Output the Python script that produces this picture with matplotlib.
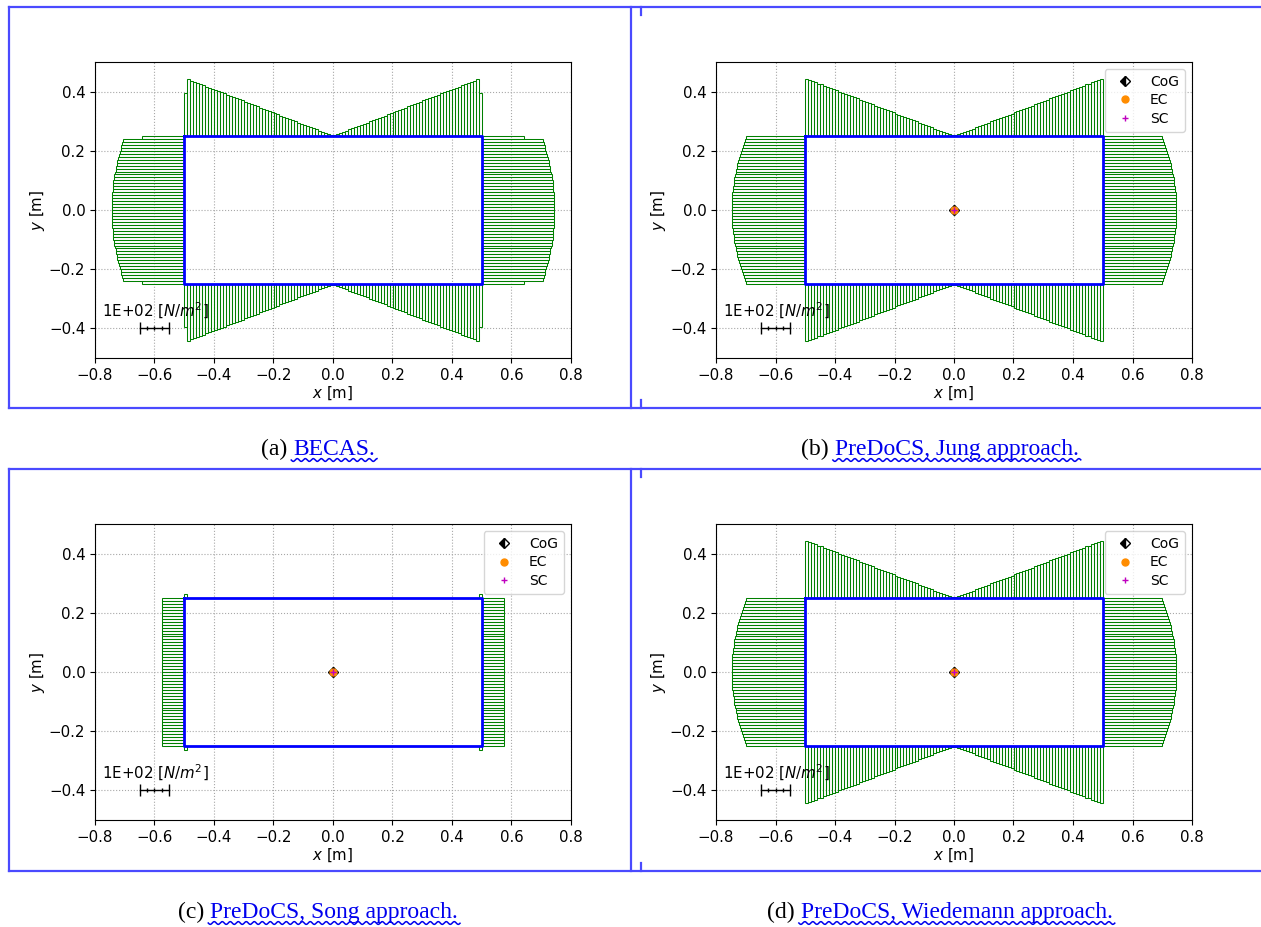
import numpy as np
import matplotlib
matplotlib.use("Agg")
import matplotlib.pyplot as plt
from matplotlib.lines import Line2D

W, H = 1261, 927

# shear stress per wall element [N/m^2], element length 0.01 m
# top/bottom walls: left -> right, side walls: top -> bottom
BECAS_TOP = [146, 191, 187, 183, 179, 175, 171, 167, 163, 159, 155, 151, 148, 144, 140, 136, 132,
             128, 124, 120, 116, 112, 108, 104, 100, 96, 92, 89, 85, 81, 77, 73, 69, 65, 61, 57,
             53, 49, 45, 41, 37, 33, 30, 26, 22, 18, 14, 10, 6, 2,
             2, 6, 10, 14, 18, 22, 26, 30, 33, 37, 41, 45, 49, 53, 57, 61, 65, 69, 73, 77, 81,
             85, 89, 92, 96, 100, 104, 108, 112, 116, 120, 124, 128, 132, 136, 140, 144, 148,
             151, 155, 159, 163, 167, 171, 175, 179, 183, 187, 191, 146]
BECAS_SIDE = [143, 205, 208, 211, 214, 217, 220, 222, 225, 227, 229, 231, 233, 235, 236, 238,
              239, 240, 241, 242, 243, 243, 244, 244, 244,
              244, 244, 244, 243, 243, 242, 241, 240, 239, 238, 236, 235, 233, 231, 229, 227,
              225, 222, 220, 217, 214, 211, 208, 205, 143]

JUNG_TOP = [193, 189, 185, 181, 177, 174, 170, 166, 162, 158, 154, 150, 146, 142, 138, 135, 131,
            127, 123, 119, 115, 111, 107, 103, 99, 96, 92, 88, 84, 80, 76, 72, 68, 64, 60, 57,
            53, 49, 45, 41, 37, 33, 29, 25, 21, 18, 14, 10, 6, 2,
            2, 6, 10, 14, 18, 21, 25, 29, 33, 37, 41, 45, 49, 53, 57, 60, 64, 68, 72, 76, 80,
            84, 88, 92, 96, 99, 103, 107, 111, 115, 119, 123, 127, 131, 135, 138, 142, 146,
            150, 154, 158, 162, 166, 170, 174, 177, 181, 185, 189, 193]
JUNG_SIDE = [199, 203, 206, 210, 213, 217, 220, 222, 225, 228, 230, 232, 234, 236, 238, 240,
             241, 242, 244, 245, 245, 246, 246, 247, 247,
             247, 247, 246, 246, 245, 245, 244, 242, 241, 240, 238, 236, 234, 232, 230, 228,
             225, 222, 220, 217, 213, 210, 206, 203, 199]

SONG_TOP = [12, 0, 0, 0, 0, 0, 0, 0, 0, 0, 0, 0, 0, 0, 0, 0, 0, 0, 0, 0, 0, 0, 0, 0, 0,
            0, 0, 0, 0, 0, 0, 0, 0, 0, 0, 0, 0, 0, 0, 0, 0, 0, 0, 0, 0, 0, 0, 0, 0, 0,
            0, 0, 0, 0, 0, 0, 0, 0, 0, 0, 0, 0, 0, 0, 0, 0, 0, 0, 0, 0, 0, 0, 0, 0, 0,
            0, 0, 0, 0, 0, 0, 0, 0, 0, 0, 0, 0, 0, 0, 0, 0, 0, 0, 0, 0, 0, 0, 0, 0, 12]
SONG_SIDE = [75, 75, 75, 75, 75, 75, 75, 75, 75, 75, 75, 75, 75, 75, 75, 75, 75, 75, 75, 75,
             75, 75, 75, 75, 75, 75, 75, 75, 75, 75, 75, 75, 75, 75, 75, 75, 75, 75, 75, 75,
             75, 75, 75, 75, 75, 75, 75, 75, 75, 75]

WIEDEMANN_TOP = JUNG_TOP
WIEDEMANN_SIDE = JUNG_SIDE

# box section outline [m]
SECTION_X = [-0.5, 0.5, 0.5, -0.5, -0.5]
SECTION_Y = [0.25, 0.25, -0.25, -0.25, 0.25]
HALF_W, HALF_H = 0.5, 0.25

# centres (CoG, EC, SC)
CENTERS = {"CoG": (0.0, 0.0), "EC": (0.0, 0.0), "SC": (0.0, 0.0)}

SCALE = 1e-3          # m per N/m^2
SCALE_REF = 100       # N/m^2 shown by the scale bar

CAPTIONS = [("(a)", "BECAS."), ("(b)", "PreDoCS, Jung approach."),
            ("(c)", "PreDoCS, Song approach."), ("(d)", "PreDoCS, Wiedemann approach.")]

GREEN = "#008000"
LINK = "#0000ee"
FRAME = "#4a4aff"
FS = 10.8


def draw_panel(ax, top, side, legend):
    top = np.array(top) * SCALE
    side = np.array(side) * SCALE
    xe = np.linspace(-HALF_W, HALF_W, len(top) + 1)
    xc = 0.5 * (xe[:-1] + xe[1:])
    ye = np.linspace(HALF_H, -HALF_H, len(side) + 1)
    yc = 0.5 * (ye[:-1] + ye[1:])
    kw = dict(fill=False, edgecolor=GREEN, linewidth=0.75, zorder=2)
    ax.bar(xc, top, width=xe[1] - xe[0], bottom=HALF_H, **kw)
    ax.bar(xc, -top, width=xe[1] - xe[0], bottom=-HALF_H, **kw)
    ax.barh(yc, side, height=ye[0] - ye[1], left=HALF_W, **kw)
    ax.barh(yc, -side, height=ye[0] - ye[1], left=-HALF_W, **kw)
    ax.plot(SECTION_X, SECTION_Y, color="blue", lw=2, zorder=3)

    # scale bar
    sx = [-0.65, -0.65 + SCALE_REF * SCALE]
    ax.plot(sx, [-0.4, -0.4], color="k", lw=1, zorder=4)
    ax.plot(sx, [-0.4, -0.4], "k|", ms=8, zorder=4)
    ax.plot(np.linspace(sx[0], sx[1], 5)[1:-1], [-0.4] * 3, "k|", ms=3, zorder=4)
    ax.text(-0.775, -0.36, "1E+02 [$N/m^2$]", fontsize=FS, va="baseline")

    if legend:
        ax.plot(*CENTERS["CoG"], marker="D", ms=5, color="k", fillstyle="left",
                markerfacecoloralt="white", ls="none", label="CoG", zorder=5)
        ax.plot(*CENTERS["EC"], marker="o", ms=5, color="darkorange", ls="none",
                label="EC", zorder=5)
        ax.plot(*CENTERS["SC"], marker="+", ms=5, color="m", ls="none", label="SC", zorder=6)
        ax.legend(loc="upper right", fontsize=10, labelspacing=0.3, borderpad=0.45)

    ax.set_xlim(-0.8, 0.8)
    ax.set_ylim(-0.5, 0.5)
    ax.set_xticks(np.arange(-0.8, 0.81, 0.2))
    ax.set_yticks(np.arange(-0.4, 0.41, 0.2))
    ax.tick_params(labelsize=FS)
    ax.set_xlabel("$x$ [m]", fontsize=FS, labelpad=1)
    ax.set_ylabel("$y$ [m]", fontsize=FS, labelpad=1)
    ax.grid(True, linestyle=":", color="#a8a8a8", linewidth=0.8)
    ax.set_axisbelow(True)


fig = plt.figure(figsize=(W / 100, H / 100), dpi=100)

panels = [(95, 62, BECAS_TOP, BECAS_SIDE, False),
          (716, 62, JUNG_TOP, JUNG_SIDE, True),
          (95, 524, SONG_TOP, SONG_SIDE, True),
          (716, 524, WIEDEMANN_TOP, WIEDEMANN_SIDE, True)]
for left, top, t, s, leg in panels:
    ax = fig.add_axes([left / W, 1 - (top + 296) / H, 476 / W, 296 / H])
    draw_panel(ax, t, s, leg)


def fline(xs, ys, color=FRAME, lw=1.6):
    fig.add_artist(Line2D(np.array(xs) / W, 1 - np.array(ys) / H,
                          transform=fig.transFigure, color=color, lw=lw))


# link frames
for y0, y1 in [(7, 408), (469, 871)]:
    fline([9, W], [y0, y0])
    fline([9, W], [y1, y1])
    fline([9, 9], [y0, y1])
    fline([631, 631], [y0, y1])
    fline([641, 641], [y0, y0 + 8])
    fline([641, 641], [y1 - 8, y1])

# captions
fig.canvas.draw()
r = fig.canvas.get_renderer()
cap_pos = [(318, 455), (940, 455), (318, 918), (940, 918)]
for (lab, link), (cx, yb) in zip(CAPTIONS, cap_pos):
    t1 = fig.text(0, 1 - yb / H, lab, fontsize=17, family="Liberation Serif",
                  va="baseline", color="k")
    t2 = fig.text(0, 1 - yb / H, link, fontsize=17, family="Liberation Serif",
                  va="baseline", color=LINK)
    w1 = t1.get_window_extent(r).width
    w2 = t2.get_window_extent(r).width
    gap = 6
    x0 = cx - (w1 + gap + w2) / 2
    t1.set_x(x0 / W)
    t2.set_x((x0 + w1 + gap) / W)
    xs = np.linspace(x0 + w1 + gap - 2, x0 + w1 + gap + w2 + 2, 300)
    ys = yb + 5 + 1.4 * np.sin(2 * np.pi * (xs - xs[0]) / 8)
    fline(xs, ys, color=LINK, lw=1.1)

fig.savefig("out.png", dpi=100)
